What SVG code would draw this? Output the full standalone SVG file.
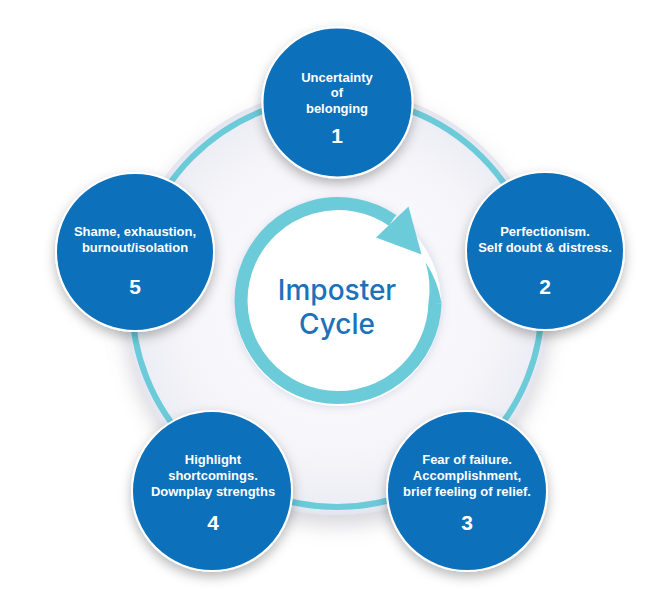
<svg xmlns="http://www.w3.org/2000/svg" width="671" height="603" viewBox="0 0 671 603">
<defs>
<radialGradient id="bg" cx="0.5" cy="0.5" r="0.5">
<stop offset="0" stop-color="#ffffff"/>
<stop offset="0.7" stop-color="#f6f6fa"/>
<stop offset="0.95" stop-color="#ededf5"/>
<stop offset="1" stop-color="#e4e4ef"/>
</radialGradient>
<filter id="bigShadow" x="-20%" y="-20%" width="140%" height="150%">
<feDropShadow dx="0" dy="10" stdDeviation="10" flood-color="#8a8a9a" flood-opacity="0.35"/>
</filter>
<filter id="nodeShadow" x="-30%" y="-30%" width="160%" height="170%">
<feDropShadow dx="0" dy="5" stdDeviation="6" flood-color="#000000" flood-opacity="0.28"/>
</filter>
<filter id="innerGlow" x="-30%" y="-30%" width="160%" height="160%">
<feDropShadow dx="0" dy="0" stdDeviation="6" flood-color="#b8b8d8" flood-opacity="0.6"/>
</filter>
<style>
.node{fill:#0b6fba;stroke:#ffffff;stroke-width:2;filter:url(#nodeShadow)}
.lbl{font-family:"Liberation Sans",Arial,sans-serif;font-weight:700;font-size:13px;fill:#ffffff;text-anchor:middle}
.num{font-family:"Liberation Sans",Arial,sans-serif;font-weight:700;font-size:21px;fill:#ffffff;text-anchor:middle}
.title{font-family:Inter,"Open Sans","Liberation Sans",sans-serif;font-weight:500;font-size:28px;fill:#1b72bb;text-anchor:middle}
.teal{fill:#6ccbd9}
</style>
</defs>
<rect width="671" height="603" fill="#ffffff"/>
<circle cx="337" cy="302" r="213" fill="url(#bg)" filter="url(#bigShadow)"/>
<g id="connectors">
<circle cx="337" cy="302" r="205" fill="none" stroke="#6ccbd9" stroke-width="6"/>
</g>
<g id="center">
<circle cx="338" cy="303" r="103" fill="#ffffff" filter="url(#innerGlow)"/>
<path d="M435,303 A97,97 0 1 1 392.6,220.4" fill="none" stroke="#6ccbd9" stroke-width="13"/>
<path class="teal" d="M425.5,262.2 A103.5,103.5 0 0 1 441.5,303 L428.5,303 A90.5,90.5 0 0 0 425.5,262.2 Z"/>
<path class="teal" d="M376,237.5 L408.5,206.5 L421.5,254.5 Z"/>
<text class="title" x="337" y="300">Imposter</text>
<text class="title" x="337" y="334">Cycle</text>
</g>
<g id="node1">
<circle class="node" cx="337.5" cy="102.5" r="75"/>
<text class="lbl" x="337" y="82">Uncertainty</text>
<text class="lbl" x="337" y="97">of</text>
<text class="lbl" x="337" y="113">belonging</text>
<text class="num" x="337" y="143">1</text>
</g>
<g id="node2">
<circle class="node" cx="545" cy="251" r="79"/>
<text class="lbl" x="545" y="236">Perfectionism.</text>
<text class="lbl" x="545" y="252">Self doubt &amp; distress.</text>
<text class="num" x="545" y="294">2</text>
</g>
<g id="node3">
<circle class="node" cx="467" cy="491" r="80"/>
<text class="lbl" x="467" y="464">Fear of failure.</text>
<text class="lbl" x="467" y="480">Accomplishment,</text>
<text class="lbl" x="467" y="496">brief feeling of relief.</text>
<text class="num" x="467" y="530">3</text>
</g>
<g id="node4">
<circle class="node" cx="212" cy="491" r="80"/>
<text class="lbl" x="213" y="464">Highlight</text>
<text class="lbl" x="213" y="480">shortcomings.</text>
<text class="lbl" x="213" y="496">Downplay strengths</text>
<text class="num" x="213" y="530">4</text>
</g>
<g id="node5">
<circle class="node" cx="135" cy="252" r="79"/>
<text class="lbl" x="135" y="236">Shame, exhaustion,</text>
<text class="lbl" x="135" y="252">burnout/isolation</text>
<text class="num" x="135" y="294">5</text>
</g>
</svg>
